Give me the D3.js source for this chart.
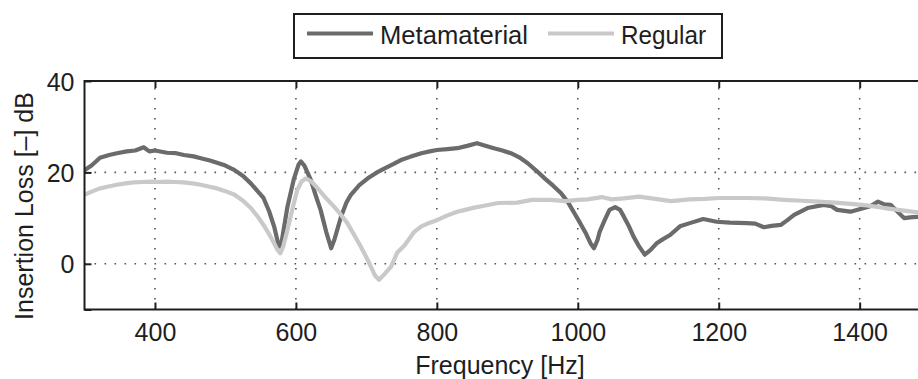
<!DOCTYPE html>
<html>
<head>
<meta charset="utf-8">
<script src="https://cdn.jsdelivr.net/npm/d3@7"></script>
<style>
  html, body { margin: 0; padding: 0; background: #fff; overflow: hidden; }
  svg { display: block; font-family: "Liberation Sans", Arial, sans-serif; }
</style>
</head>
<body>
<svg id="chart" width="918" height="379"></svg>
<script>
// Frequency [Hz] and insertion loss [dB]
const metaFreq = [300, 310, 322, 335, 346, 360, 372, 384, 392, 400, 417, 430, 441, 455, 465, 478, 488, 500, 513, 525,
  536, 545, 554, 562, 569, 574, 577, 580, 588, 597, 604, 607, 612, 621, 628, 635, 643, 650, 655, 664,
  672, 678, 690, 702, 715, 726, 738, 749, 762, 778, 790, 800, 815, 829, 843, 857, 870, 881, 893, 905,
  917, 929, 941, 953, 965, 976, 986, 995, 1003, 1012, 1018, 1023, 1028, 1031, 1038, 1045, 1053, 1060, 1064, 1072,
  1079, 1087, 1095, 1103, 1112, 1121, 1131, 1145, 1159, 1178, 1197, 1216, 1240, 1252, 1264, 1275, 1288, 1297, 1307, 1326,
  1349, 1360, 1368, 1387, 1401, 1415, 1426, 1435, 1444, 1455, 1463, 1475, 1490];
const metaLoss = [20.5, 21.5, 23.2, 23.8, 24.2, 24.6, 24.8, 25.5, 24.6, 24.8, 24.3, 24.2, 23.8, 23.5, 23.1, 22.6, 22.1, 21.5, 20.5, 19.2,
  17.6, 16.0, 14.4, 11.5, 8.2, 5.0, 3.8, 5.0, 12.5, 18.5, 21.8, 22.4, 21.5, 18.4, 15.0, 11.8, 7.0, 3.4, 5.5, 10.3,
  13.5, 15.1, 17.2, 18.7, 20.0, 20.9, 21.8, 22.7, 23.4, 24.2, 24.6, 24.9, 25.1, 25.3, 25.8, 26.4, 25.8, 25.3, 24.8, 24.2,
  23.3, 22.0, 20.4, 18.7, 17.1, 15.5, 13.5, 11.1, 9.0, 6.5, 4.5, 3.4, 5.2, 7.0, 9.5, 11.8, 12.4, 11.8, 10.7, 8.4,
  6.0, 3.8, 2.0, 3.0, 4.5, 5.4, 6.3, 8.2, 8.9, 9.8, 9.2, 9.0, 8.9, 8.8, 8.0, 8.3, 8.5, 9.5, 10.7, 12.2,
  12.9, 12.6, 11.8, 11.4, 12.0, 12.6, 13.6, 13.0, 12.9, 11.2, 10.0, 10.2, 10.3];

const regFreq = [300, 310, 322, 334, 346, 358, 370, 382, 394, 405, 417, 429, 441, 453, 465, 476, 488, 500, 513, 525,
  536, 545, 554, 562, 569, 574, 578, 582, 588, 595, 602, 608, 614, 622, 631, 642, 654, 663, 673, 682,
  692, 703, 712, 718, 726, 735, 744, 754, 768, 778, 790, 801, 815, 829, 840, 853, 867, 887, 914, 935,
  962, 982, 1000, 1014, 1034, 1048, 1065, 1087, 1110, 1132, 1159, 1180, 1201, 1240, 1265, 1293, 1318, 1341, 1365, 1387,
  1410, 1435, 1460, 1490];
const regLoss = [15.1, 15.8, 16.5, 16.9, 17.3, 17.6, 17.8, 17.9, 18.0, 17.9, 18.0, 17.9, 17.8, 17.6, 17.3, 16.9, 16.5, 15.9, 15.1, 13.8,
  12.2, 10.5, 8.5, 6.5, 4.5, 3.0, 2.3, 3.8, 7.4, 12.0, 16.2, 18.0, 18.7, 18.0, 16.5, 14.5, 12.5, 10.9, 8.9, 6.5,
  3.8, 0.5, -2.5, -3.5, -2.2, -0.6, 2.5, 4.0, 7.0, 8.2, 9.0, 9.6, 10.6, 11.4, 11.8, 12.3, 12.7, 13.3, 13.4, 14.0,
  14.0, 13.7, 14.0, 14.1, 14.6, 14.1, 14.3, 14.7, 14.2, 13.7, 14.1, 14.2, 14.4, 14.4, 14.3, 14.0, 13.8, 13.6, 13.4, 13.1,
  12.8, 12.2, 11.7, 11.1];

const xTicks = [400, 600, 800, 1000, 1200, 1400];
const yTicks = [-10, 0, 20, 40];
const yTickLabels = [0, 20, 40];
const yGrid = [0, 20];

const seriesNames = ['Metamaterial', 'Regular'];
const seriesColors = ['#6b6b6b', '#c9c9c9'];

const svg = d3.select('#chart');
const ink = '#1e1e1e';

const plotLeft = 84.5, plotTop = 81, plotBottom = 309.5;
const x = d3.scaleLinear().domain([300, 1500]).range([plotLeft, plotLeft + 1200 * 0.7047]);
const y = d3.scaleLinear().domain([-10, 40]).range([plotBottom, plotTop]);
const plotRight = x(1500);

// clip for the plot area
svg.append('defs').append('clipPath').attr('id', 'plotClip')
  .append('rect')
  .attr('x', plotLeft).attr('y', plotTop)
  .attr('width', plotRight - plotLeft).attr('height', plotBottom - plotTop);

// dotted grid
const grid = svg.append('g')
  .attr('stroke', '#555')
  .attr('stroke-width', 1.6)
  .attr('stroke-dasharray', '1.6,8.4');

grid.selectAll('.vgrid')
  .data(xTicks)
  .enter().append('line')
  .attr('x1', d => x(d)).attr('x2', d => x(d))
  .attr('y1', plotBottom).attr('y2', plotTop);

grid.selectAll('.hgrid')
  .data(yGrid)
  .enter().append('line')
  .attr('x1', plotLeft).attr('x2', plotRight)
  .attr('y1', d => y(d)).attr('y2', d => y(d));

// curves
const line = d3.line()
  .x(d => x(d[0]))
  .y(d => y(d[1]))
  .curve(d3.curveLinear);

const metaData = d3.zip(metaFreq, metaLoss);
const regData = d3.zip(regFreq, regLoss);

const plot = svg.append('g').attr('clip-path', 'url(#plotClip)');

[metaData, regData].forEach((data, i) => {
  plot.append('path')
    .datum(data)
    .attr('fill', 'none')
    .attr('stroke', seriesColors[i])
    .attr('stroke-width', 4.2)
    .attr('stroke-linejoin', 'round')
    .attr('stroke-linecap', 'round')
    .attr('d', line);
});

// axes with inward ticks
const xAxisBottom = svg.append('g')
  .attr('transform', `translate(0, ${plotBottom})`)
  .call(d3.axisBottom(x).tickValues(xTicks).tickFormat(d3.format('d'))
    .tickSizeInner(-7).tickSizeOuter(0).tickPadding(14));

const xAxisTop = svg.append('g')
  .attr('transform', `translate(0, ${plotTop})`)
  .call(d3.axisTop(x).tickValues(xTicks).tickSizeInner(-7).tickSizeOuter(0).tickFormat(''));

const yAxis = svg.append('g')
  .attr('transform', `translate(${plotLeft}, 0)`)
  .call(d3.axisLeft(y).tickValues(yTicks).tickSizeInner(-7).tickSizeOuter(0).tickPadding(10)
    .tickFormat(d => yTickLabels.includes(d) ? d : ''));

[xAxisBottom, xAxisTop, yAxis].forEach(g => {
  g.select('.domain').remove();
  g.selectAll('.tick line').attr('stroke', ink).attr('stroke-width', 2);
  g.selectAll('.tick text')
    .attr('fill', ink)
    .style('font-size', '25px')
    .style('font-family', '"Liberation Sans", Arial, sans-serif');
});
xAxisBottom.selectAll('.tick text').attr('dy', '0.71em');
yAxis.selectAll('.tick text').attr('dy', '0.36em');

// plot frame
svg.append('rect')
  .attr('x', plotLeft).attr('y', plotTop)
  .attr('width', plotRight - plotLeft).attr('height', plotBottom - plotTop)
  .attr('fill', 'none')
  .attr('stroke', ink)
  .attr('stroke-width', 2);

// axis labels
svg.append('text')
  .attr('x', 500).attr('y', 374)
  .attr('text-anchor', 'middle')
  .attr('fill', ink)
  .style('font-size', '25px')
  .text('Frequency [Hz]');

svg.append('text')
  .attr('transform', 'translate(33, 206) rotate(-90)')
  .attr('text-anchor', 'middle')
  .attr('fill', ink)
  .style('font-size', '25px')
  .text('Insertion Loss [–] dB');

// legend
const legend = svg.append('g');
legend.append('rect')
  .attr('x', 294).attr('y', 14)
  .attr('width', 428).attr('height', 44)
  .attr('fill', '#fff')
  .attr('stroke', ink)
  .attr('stroke-width', 2);

const legendLineX = [307, 548];
seriesNames.forEach((name, i) => {
  legend.append('line')
    .attr('x1', legendLineX[i]).attr('x2', legendLineX[i] + 66)
    .attr('y1', 33.5).attr('y2', 33.5)
    .attr('stroke', seriesColors[i])
    .attr('stroke-width', 4);
  legend.append('text')
    .attr('x', legendLineX[i] + 73).attr('y', 44)
    .attr('fill', ink)
    .style('font-size', '26px')
    .attr('textLength', i === 0 ? 148 : 85)
    .attr('lengthAdjust', 'spacingAndGlyphs')
    .text(name);
});
</script>
</body>
</html>
